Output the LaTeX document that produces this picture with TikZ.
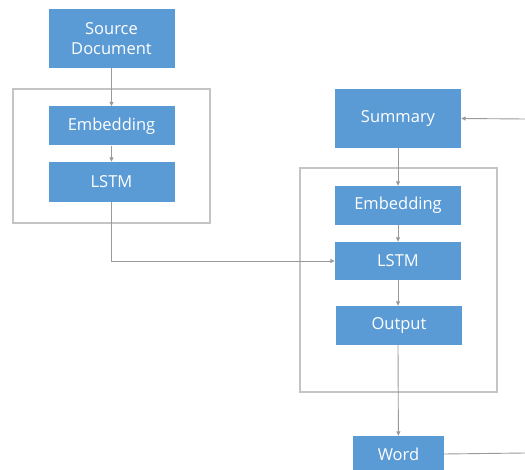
\documentclass[tikz,border=0pt]{standalone}
\usepackage{fontspec}
\setsansfont{Open Sans}
\usetikzlibrary{arrows.meta}

\definecolor{boxblue}{HTML}{5B9BD5}
\definecolor{framegray}{HTML}{C4C4C4}
\definecolor{linegray}{HTML}{9A9A9A}

\begin{document}
\begin{tikzpicture}[x=1pt,y=-1pt]
\tikzset{
  blockbox/.style={rectangle,fill=boxblue,draw=none,minimum width=126pt,minimum height=39pt,inner sep=1pt,
    text=white,align=center,font=\sffamily\fontsize{16.5}{20}\selectfont},
  groupframe/.style={draw=framegray,line width=1.2pt},
  flow/.style={draw=linegray,line width=0.9pt,-{Triangle[length=4.5pt,width=4pt]}},
  plainflow/.style={draw=linegray,line width=0.9pt}
}
\useasboundingbox (0,0) rectangle (525,470);
% frames round the two stacks
\draw[groupframe] (13,89) rectangle (210,223);
\draw[groupframe] (300,168) rectangle (497,392);
% encoder side
\node[blockbox,minimum height=59pt] (n_src) at (111.5,38.5) {Source\\Document};
\node[blockbox] (n_embl) at (111.5,126) {Embedding};
\node[blockbox,minimum height=40pt] (n_lstml) at (111.5,182) {LSTM};
% decoder side
\node[blockbox,minimum height=59pt] (n_sum) at (398,118.5) {Summary};
\node[blockbox] (n_embr) at (398,205.5) {Embedding};
\node[blockbox,minimum height=38pt] (n_lstmr) at (398,261) {LSTM};
\node[blockbox] (n_out) at (399,325.5) {Output};
\node[blockbox,minimum width=91pt,minimum height=36pt] (n_word) at (398.5,454) {Word};
% loose ends at the right border
\coordinate (c_fbout) at (525,453);
\coordinate (c_fbin) at (525,119);
\draw[flow] (n_src) -- (n_embl);
\draw[flow] (n_embl) -- (n_lstml);
\draw[flow] (n_lstml.south) |- (n_lstmr.west);
\draw[flow] (n_sum) -- (n_embr);
\draw[flow] (n_embr) -- (n_lstmr);
\draw[flow] (n_lstmr) -- (n_lstmr |- n_out.north);
\draw[flow] (n_lstmr |- n_out.south) -- (n_word);
\draw[plainflow] (n_word.east) -- (c_fbout);
\draw[flow] (c_fbin) -- (n_sum.east);
\end{tikzpicture}
\end{document}
